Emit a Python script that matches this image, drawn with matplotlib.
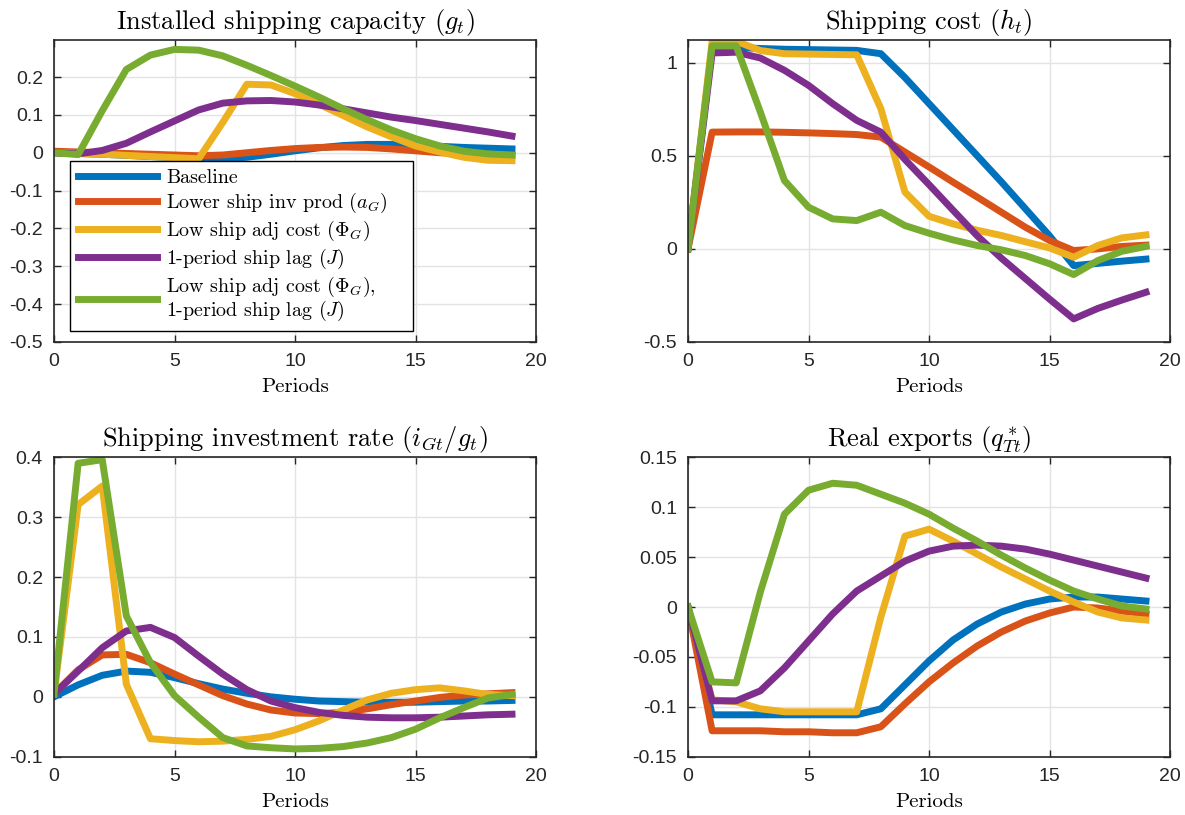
#!/usr/bin/env python3

import numpy as np
from matplotlib import pyplot as plt

plt.rcParams['mathtext.fontset'] = 'cm'
plt.rcParams['axes.unicode_minus'] = False
plt.rcParams['font.family'] = ['Liberation Sans', 'DejaVu Sans']

periods = np.arange(20)

labels = ["Baseline",
          "Lower ship inv prod ($a_G$)",
          "Low ship adj cost ($\\Phi_G$)",
          "1-period ship lag ($J$)",
          "Low ship adj cost ($\\Phi_G$),\n1-period ship lag ($J$)"]
colors = ['#0072BD', '#D95319', '#EDB120', '#7E2F8E', '#77AC30']

# installed shipping capacity g_t
g_base = [0, -0.002, -0.004, -0.007, -0.01, -0.013, -0.015, -0.016, -0.012, -0.004,
          0.005, 0.013, 0.019, 0.022, 0.022, 0.02, 0.017, 0.014, 0.012, 0.01]
g_aG = [0.004, 0.002, 0.0, -0.002, -0.004, -0.006, -0.008, -0.006, 0.0, 0.006,
        0.011, 0.014, 0.015, 0.014, 0.01, 0.005, 0.0, -0.003, -0.005, -0.007]
g_phi = [0, -0.002, -0.004, -0.007, -0.01, -0.013, -0.016, 0.08, 0.181, 0.179,
         0.156, 0.128, 0.098, 0.068, 0.042, 0.018, 0.002, -0.012, -0.02, -0.021]
g_lag = [0, -0.003, 0.006, 0.025, 0.055, 0.084, 0.113, 0.131, 0.137, 0.138,
         0.134, 0.126, 0.116, 0.105, 0.094, 0.085, 0.075, 0.065, 0.055, 0.044]
g_both = [0, -0.005, 0.111, 0.22, 0.258, 0.273, 0.271, 0.256, 0.231, 0.204,
          0.176, 0.147, 0.116, 0.087, 0.06, 0.037, 0.018, 0.004, -0.003, -0.006]

# shipping cost h_t
h_base = [0, 1.084, 1.082, 1.076, 1.072, 1.07, 1.068, 1.066, 1.048, 0.92,
          0.78, 0.64, 0.5, 0.36, 0.215, 0.07, -0.09, -0.078, -0.066, -0.055]
h_aG = [0, 0.627, 0.628, 0.628, 0.626, 0.623, 0.619, 0.614, 0.6, 0.52,
        0.44, 0.358, 0.278, 0.197, 0.116, 0.045, -0.009, 0.0, 0.013, 0.02]
h_phi = [0, 1.115, 1.115, 1.065, 1.048, 1.046, 1.044, 1.042, 0.753, 0.305,
         0.175, 0.134, 0.1, 0.072, 0.038, 0.005, -0.045, 0.018, 0.059, 0.075]
h_lag = [0, 1.052, 1.056, 1.025, 0.959, 0.878, 0.78, 0.69, 0.627, 0.48,
         0.345, 0.207, 0.07, -0.05, -0.16, -0.27, -0.376, -0.32, -0.275, -0.233]
h_both = [0, 1.09, 1.09, 0.735, 0.367, 0.224, 0.161, 0.152, 0.197, 0.125,
          0.084, 0.048, 0.018, -0.005, -0.036, -0.08, -0.138, -0.063, -0.013, 0.013]

# shipping investment rate i_Gt/g_t
i_base = [0, 0.02, 0.036, 0.043, 0.041, 0.032, 0.022, 0.013, 0.006, 0.0,
          -0.004, -0.007, -0.008, -0.009, -0.009, -0.009, -0.008, -0.007, -0.007, -0.006]
i_aG = [0.005, 0.045, 0.07, 0.071, 0.057, 0.038, 0.02, 0.002, -0.012, -0.022,
        -0.027, -0.028, -0.026, -0.02, -0.013, -0.007, -0.001, 0.003, 0.005, 0.007]
i_phi = [0.005, 0.321, 0.352, 0.021, -0.07, -0.073, -0.075, -0.074, -0.071, -0.066,
         -0.055, -0.04, -0.022, -0.005, 0.006, 0.012, 0.015, 0.01, 0.004, 0.002]
i_lag = [0.005, 0.043, 0.082, 0.11, 0.116, 0.099, 0.068, 0.038, 0.012, -0.007,
         -0.018, -0.026, -0.031, -0.034, -0.035, -0.035, -0.034, -0.032, -0.03, -0.029]
i_both = [0.005, 0.39, 0.396, 0.135, 0.057, 0.002, -0.034, -0.068, -0.082, -0.085,
          -0.087, -0.086, -0.083, -0.077, -0.068, -0.054, -0.035, -0.018, -0.002, 0.004]

# real exports q*_Tt
q_base = [0, -0.108, -0.108, -0.108, -0.108, -0.108, -0.108, -0.108, -0.102, -0.078,
          -0.054, -0.033, -0.017, -0.005, 0.003, 0.008, 0.01, 0.01, 0.008, 0.006]
q_aG = [0, -0.124, -0.124, -0.124, -0.125, -0.125, -0.126, -0.126, -0.12, -0.097,
        -0.075, -0.056, -0.039, -0.025, -0.014, -0.006, 0.0, -0.001, -0.004, -0.007]
q_phi = [0, -0.093, -0.095, -0.102, -0.105, -0.105, -0.105, -0.105, -0.01, 0.071,
         0.078, 0.066, 0.053, 0.04, 0.028, 0.016, 0.005, -0.005, -0.011, -0.013]
q_lag = [0, -0.094, -0.094, -0.084, -0.061, -0.034, -0.007, 0.016, 0.031, 0.046,
         0.056, 0.061, 0.062, 0.061, 0.058, 0.053, 0.047, 0.041, 0.035, 0.029]
q_both = [0, -0.075, -0.076, 0.015, 0.093, 0.117, 0.124, 0.122, 0.113, 0.104,
          0.093, 0.079, 0.066, 0.052, 0.039, 0.027, 0.016, 0.008, 0.001, -0.002]

panels = [
    ("Installed shipping capacity ($g_t$)", [g_base, g_aG, g_phi, g_lag, g_both],
     (-0.5, 0.298), [-0.5, -0.4, -0.3, -0.2, -0.1, 0, 0.1, 0.2]),
    ("Shipping cost ($h_t$)", [h_base, h_aG, h_phi, h_lag, h_both],
     (-0.5, 1.122), [-0.5, 0, 0.5, 1]),
    ("Shipping investment rate ($i_{Gt}/g_t$)", [i_base, i_aG, i_phi, i_lag, i_both],
     (-0.1, 0.4), [-0.1, 0, 0.1, 0.2, 0.3, 0.4]),
    ("Real exports ($q^*_{Tt}$)", [q_base, q_aG, q_phi, q_lag, q_both],
     (-0.15, 0.15), [-0.15, -0.1, -0.05, 0, 0.05, 0.1, 0.15]),
]

positions = [[0.0456, 0.5804, 0.4068, 0.3706],
             [0.5806, 0.5804, 0.4068, 0.3706],
             [0.0456, 0.0715, 0.4068, 0.3674],
             [0.5806, 0.0715, 0.4068, 0.3674]]

fig = plt.figure(figsize=(11.85, 8.15), dpi=100)
dark = (0.15, 0.15, 0.15)

for k, (title, series, ylim, yticks) in enumerate(panels):
    ax = fig.add_axes(positions[k])
    for s, c, lab in zip(series, colors, labels):
        ax.plot(periods, s, color=c, lw=5, label=lab)
    ax.set_xlim(0, 20)
    ax.set_ylim(*ylim)
    ax.set_xticks([0, 5, 10, 15, 20])
    ax.set_yticks(yticks)
    ax.set_yticklabels(['%g' % v for v in yticks])
    ax.grid(True, color='#e3e3e3', lw=1)
    ax.set_axisbelow(True)
    ax.tick_params(direction='in', top=True, right=True, length=5, width=1,
                   labelsize=14, colors=dark, labelcolor=dark, pad=8)
    for sp in ax.spines.values():
        sp.set_color(dark)
        sp.set_linewidth(1.2)
    ax.set_title(title, fontsize=19, family='cmr10', pad=8)
    ax.set_xlabel("Periods", fontsize=15, family='cmr10', labelpad=6)
    if k == 0:
        leg = ax.legend(loc='upper left', bbox_to_anchor=(0.033, 0.2, 0.712, 0.4),
                        mode='expand', borderaxespad=0,
                        prop={'family': 'cmr10', 'size': 14.4}, handlelength=3.95,
                        handletextpad=0.45, labelspacing=0.2, borderpad=0.4,
                        fancybox=False, framealpha=1, edgecolor='black')
        leg.get_frame().set_linewidth(1)
        leg.get_texts()[-1].set_linespacing(0.95)

plt.savefig('out.png', dpi=100)
